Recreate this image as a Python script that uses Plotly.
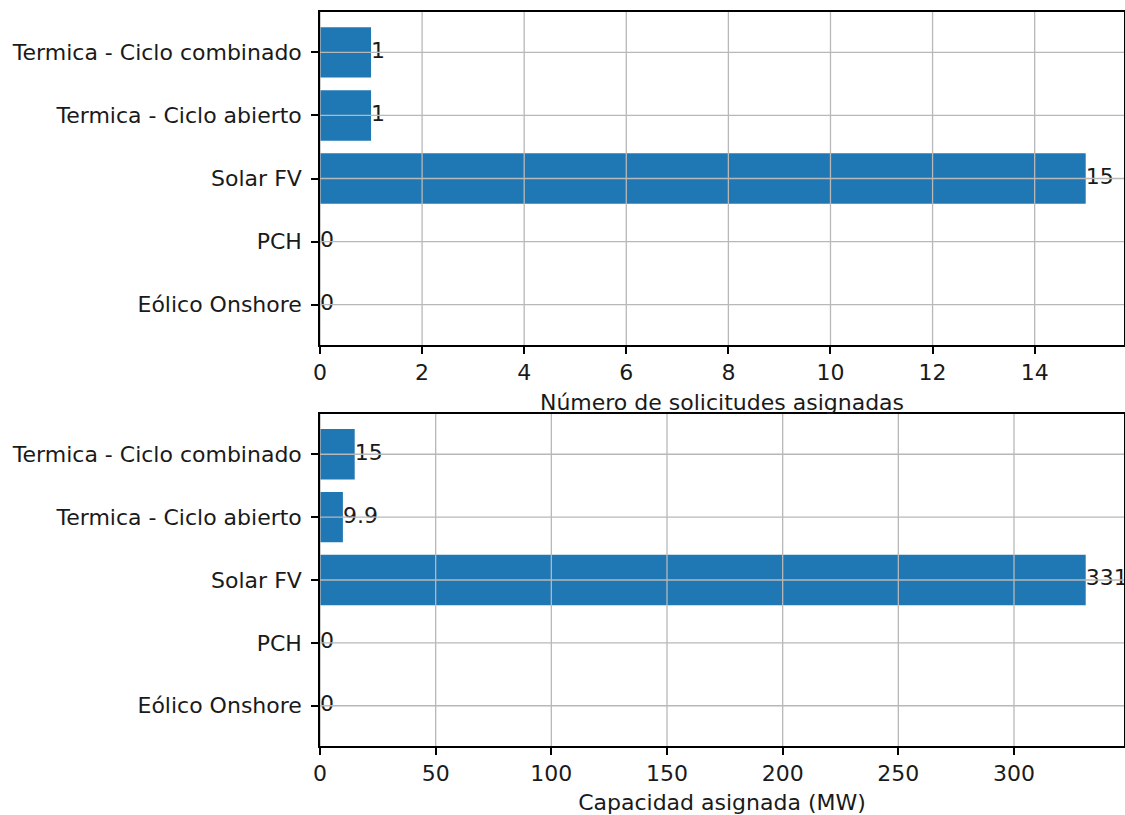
import plotly.graph_objects as go

categories = ["Eólico Onshore", "PCH", "Solar FV", "Termica - Ciclo abierto", "Termica - Ciclo combinado"]
solicitudes = [0, 0, 15, 1, 1]
capacidad = [0, 0, 331, 9.9, 15]
solicitudes_labels = ["0", "0", "15", "1", "1"]
capacidad_labels = ["0", "0", "331", "9.9", "15"]
xticks_top = [0, 2, 4, 6, 8, 10, 12, 14]
xticks_bottom = [0, 50, 100, 150, 200, 250, 300]

BLUE = "#1f77b4"
FONT = "DejaVu Sans"
FS = 22
GRID = "#b8b8b8"
TXT = "#1a1a1a"

fig = go.Figure()

fig.add_trace(go.Bar(x=solicitudes, y=categories, orientation="h", marker=dict(color=BLUE, line=dict(width=0)),
                     xaxis="x", yaxis="y", showlegend=False))
fig.add_trace(go.Scatter(x=solicitudes, y=categories, mode="text", text=solicitudes_labels,
                         textposition="middle right", textfont=dict(family=FONT, size=FS, color=TXT),
                         xaxis="x", yaxis="y", showlegend=False, cliponaxis=False))
fig.add_trace(go.Bar(x=capacidad, y=categories, orientation="h", marker=dict(color=BLUE, line=dict(width=0)),
                     xaxis="x2", yaxis="y2", showlegend=False))
fig.add_trace(go.Scatter(x=capacidad, y=categories, mode="text", text=capacidad_labels,
                         textposition="middle right", textfont=dict(family=FONT, size=FS, color=TXT),
                         xaxis="x2", yaxis="y2", showlegend=False, cliponaxis=False))

shapes = []
for xr, yr, ticks in (("x", "y", xticks_top), ("x2", "y2", xticks_bottom)):
    for t in ticks:
        shapes.append(dict(type="line", xref=xr, yref=yr + " domain", x0=t, x1=t, y0=0, y1=1,
                           line=dict(color=GRID, width=1.3), layer="above"))
    for c in categories:
        shapes.append(dict(type="line", xref=xr + " domain", yref=yr, x0=0, x1=1, y0=c, y1=c,
                           line=dict(color=GRID, width=1.3), layer="above"))

axis_common = dict(showline=True, linecolor="black", linewidth=1.5, mirror=True, ticks="outside",
                   ticklen=7, tickwidth=1.5, tickcolor="black", showgrid=False, zeroline=False,
                   tickfont=dict(family=FONT, size=FS, color=TXT), layer="above traces", automargin=False)

fig.update_layout(
    width=1125, height=815,
    margin=dict(l=320, r=1, t=12, b=69, autoexpand=False),
    paper_bgcolor="white", plot_bgcolor="white",
    bargap=0.2,
    shapes=shapes,
    xaxis=dict(domain=[0, 1], anchor="y", range=[0, 15 * 1.05], tickvals=xticks_top,
               title=dict(text="Número de solicitudes asignadas", font=dict(family=FONT, size=FS, color=TXT), standoff=10),
               **axis_common),
    yaxis=dict(domain=[0.5463, 1.0], anchor="x", range=[-0.64, 4.64], type="category",
               categoryorder="array", categoryarray=categories, ticklabelstandoff=5, **axis_common),
    xaxis2=dict(domain=[0, 1], anchor="y2", range=[0, 331 * 1.05], tickvals=xticks_bottom,
                title=dict(text="Capacidad asignada (MW)", font=dict(family=FONT, size=FS, color=TXT), standoff=10),
                **axis_common),
    yaxis2=dict(domain=[0, 0.4523], anchor="x2", range=[-0.64, 4.64], type="category",
                categoryorder="array", categoryarray=categories, ticklabelstandoff=5, **axis_common),
)

fig.write_html("out.html", config={"displayModeBar": False},
               post_script="document.body.style.margin='0';document.body.style.overflow='hidden';")
